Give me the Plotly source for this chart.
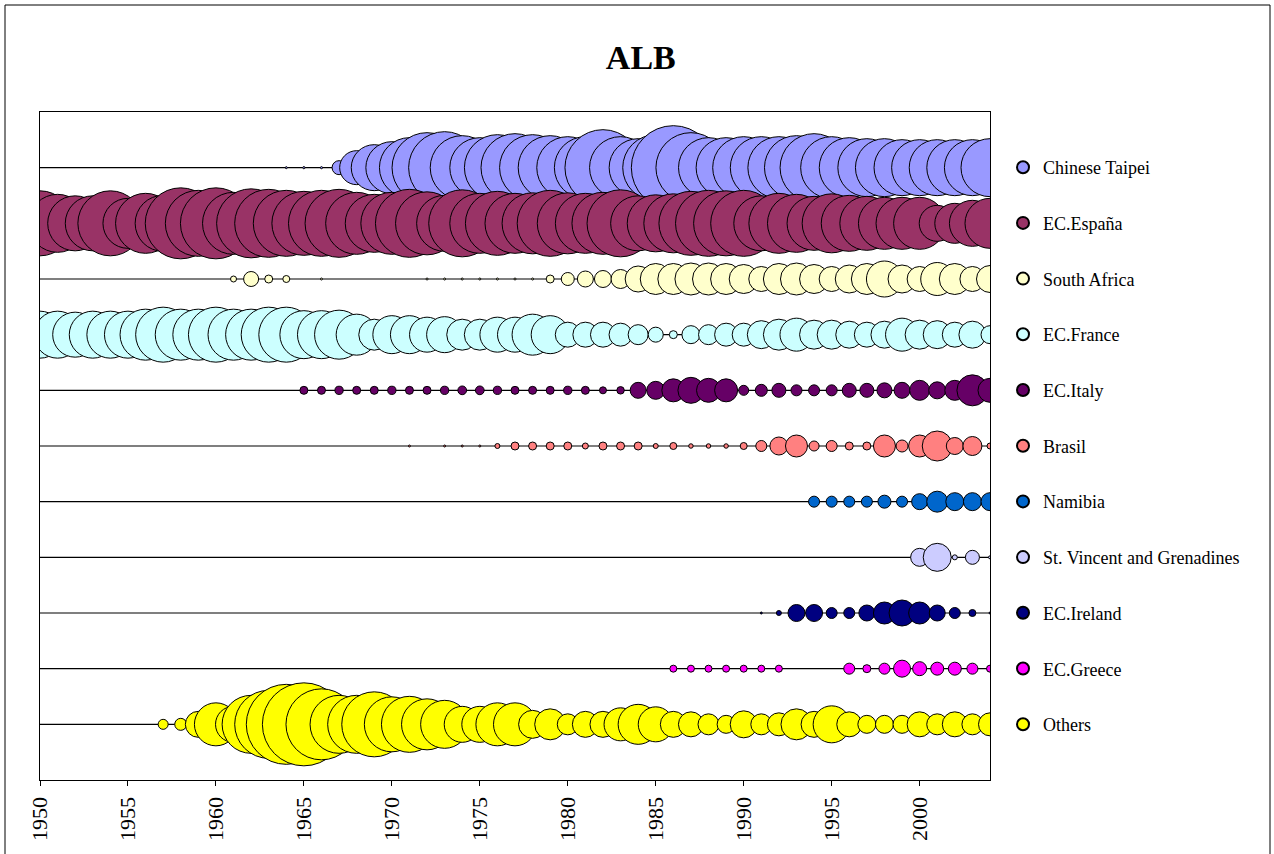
import plotly.graph_objects as go

N = None
years = list(range(1950, 2005))

series_names = [
    "Chinese Taipei", "EC.España", "South Africa", "EC.France", "EC.Italy",
    "Brasil", "Namibia", "St. Vincent and Grenadines", "EC.Ireland",
    "EC.Greece", "Others",
]
series_colors = [
    "#9999FF", "#993366", "#FFFFCC", "#CCFFFF", "#660066",
    "#FF8080", "#0066CC", "#CCCCFF", "#000080", "#FF00FF", "#FFFF00",
]

# Estimated catches (t) per year, 1950-2004
chinese_taipei = [N] * 14 + [
    20, 25, 22, 980, 5780, 10580, 13520, 18000, 24500, 25920,
    20480, 18000, 21780, 23120, 21780, 20480, 19220, 19220, 28880, 19220,
    16820, 21780, 35280, 24500, 18000, 18000, 19220, 19220, 19220, 20480,
    23120, 19220, 18000, 16820, 16820, 15680, 15680, 15680, 15680, 15680,
    16820,
]
ec_espana = [
    21125, 16820, 15125, 15125, 21125, 12500, 18000, 15680, 25205, 21780,
    25205, 19220, 23805, 23120, 21780, 20480, 21780, 23120, 19220, 16820,
    19220, 23120, 19845, 15680, 22445, 18000, 20480, 18000, 18605, 21780,
    18605, 18000, 19220, 22445, 15125, 16245, 17405, 20480, 21780, 21125,
    21780, 15125, 18000, 16820, 14580, 17405, 15680, 14580, 13520, 13520,
    13520, 6480, 8000, 10580, 12500,
]
south_africa = [N] * 11 + [
    180, 1125, 320, 245, N, 20, N, N, N, N,
    N, 20, 20, 20, 20, 20, 20, 20, 320, 845,
    1280, 1445, 1805, 3380, 4805, 4805, 5120, 5120, 4805, 4205,
    3125, 4805, 5120, 4205, 3125, 3920, 4805, 6480, 3920, 3125,
    5445, 4805, 3125, 3645,
]
ec_france = [
    11045, 11045, 10125, 11045, 11045, 11045, 13005, 15125, 13005, 13005,
    15125, 13005, 13005, 15125, 15125, 11520, 11520, 12005, 8405, 4805,
    7220, 7220, 6125, 6480, 4805, 4805, 6125, 6125, 8405, 7220,
    3125, 3125, 3125, 2645, 2000, 1125, 320, 1620, 2000, 2645,
    2645, 3920, 4805, 5445, 4205, 4205, 3645, 3125, 3645, 5445,
    4205, 3920, 3125, 3645, 1620,
]
ec_italy = [N] * 15 + [
    320, 320, 340, 320, 320, 340, 320, 320, 340, 380,
    380, 340, 320, 320, 320, 340, 320, 245, 280, 1280,
    1620, 2645, 3380, 2880, 2645, 500, 720, 980, 605, 605,
    605, 980, 980, 1125, 1280, 2000, 1445, 2000, 4805, 2880,
]
brasil = [N] * 21 + [
    20, N, 20, 20, 20, 125, 320, 320, 320, 320,
    180, 320, 320, 320, 125, 245, 100, 100, 100, 245,
    605, 1620, 2420, 500, 605, 320, 320, 2420, 720, 2420,
    4500, 1445, 1805, 180,
]
namibia = [N] * 44 + [605, 605, 605, 605, 845, 605, 1280, 2205, 1620, 1620, 1620]
st_vincent = [N] * 50 + [1620, 3920, 125, 980, 45]
ec_ireland = [N] * 41 + [20, 125, 1445, 1445, 605, 605, 1280, 2420, 3380, 2420, 1280, 605, 245, 20]
ec_greece = [N] * 36 + [
    245, 245, 245, 245, 245, 245, 245, N, N, N,
    605, 320, 605, 1445, 980, 845, 845, 605, 245,
]
others = [N] * 7 + [
    500, 720, 3380, 9245, 6480, 16820, 23120, 32000, 34445, 25205,
    16820, 16820, 21125, 15125, 15680, 13005, 11520, 6480, 6480, 9245,
    9245, 3920, 4805, 2205, 3380, 3380, 5445, 8000, 6125, 3380,
    3125, 2205, 1620, 3645, 2205, 2645, 4805, 3380, 6845, 3125,
    1620, 1620, 1620, 3125, 2205, 3125, 2205, 2645,
]

series_values = [
    chinese_taipei, ec_espana, south_africa, ec_france, ec_italy, brasil,
    namibia, st_vincent, ec_ireland, ec_greece, others,
]

FONT = "Liberation Serif, Times New Roman, serif"
n_series = len(series_names)

W, H = 1274, 854
ML, MR, MT, MB = 40, 284, 112, 74
PW, PH = W - ML - MR, H - MT - MB

fig = go.Figure()

# frame around the whole chart area
fig.add_shape(type="rect", xref="paper", yref="paper",
              x0=(5 - ML) / PW, x1=(1270 - ML) / PW,
              y0=(H - MB - 870) / PH, y1=(H - MB - 5) / PH,
              line=dict(color="black", width=1), layer="below")

for i, (name, color, vals) in enumerate(zip(series_names, series_colors, series_values)):
    assert len(vals) == len(years), name
    row = n_series - i
    xs = [y for y, v in zip(years, vals) if v is not None]
    ss = [v for v in vals if v is not None]
    fig.add_hline(y=row, line=dict(color="black", width=1.1), layer="below")
    fig.add_trace(go.Scatter(
        x=xs, y=[row] * len(xs), mode="markers", name=name,
        legendgroup=name,
        marker=dict(size=ss, sizemode="area", sizeref=10, color=color,
                    line=dict(color="black", width=1), opacity=1),
        hovertemplate="%{x}: %{marker.size} t<extra>" + name + "</extra>",
    ))

fig.update_layout(
    width=W, height=H,
    margin=dict(l=ML, r=MR, t=MT, b=MB),
    paper_bgcolor="white", plot_bgcolor="white",
    title=dict(text="<b>ALB</b>", x=0.503, xref="container", xanchor="center",
               y=1 - 57 / H, yref="container", yanchor="middle",
               font=dict(family=FONT, size=34, color="black")),
    font=dict(family=FONT, color="black"),
    showlegend=True,
    legend=dict(x=(1003 - ML) / PW, xanchor="left",
                y=(H - MB - 149) / PH, yanchor="top",
                font=dict(family=FONT, size=18, color="black"),
                itemsizing="constant", tracegroupgap=29.3,
                traceorder="grouped", bgcolor="rgba(0,0,0,0)"),
    xaxis=dict(range=[1950, 2004], tick0=1950, dtick=5, ticks="outside",
               ticklen=5, tickcolor="black", tickangle=-90,
               ticklabelstandoff=2,
               tickfont=dict(family=FONT, size=22, color="black"),
               showline=True, linecolor="black", linewidth=1.3, mirror=True,
               showgrid=False, zeroline=False),
    yaxis=dict(range=[0, n_series + 1], showticklabels=False, ticks="",
               showline=True, linecolor="black", linewidth=1.3, mirror=True,
               showgrid=False, zeroline=False),
)

fig.write_html("out.html",
               config={"displayModeBar": False},
               post_script="document.body.style.margin='0';document.body.style.overflow='hidden';")
